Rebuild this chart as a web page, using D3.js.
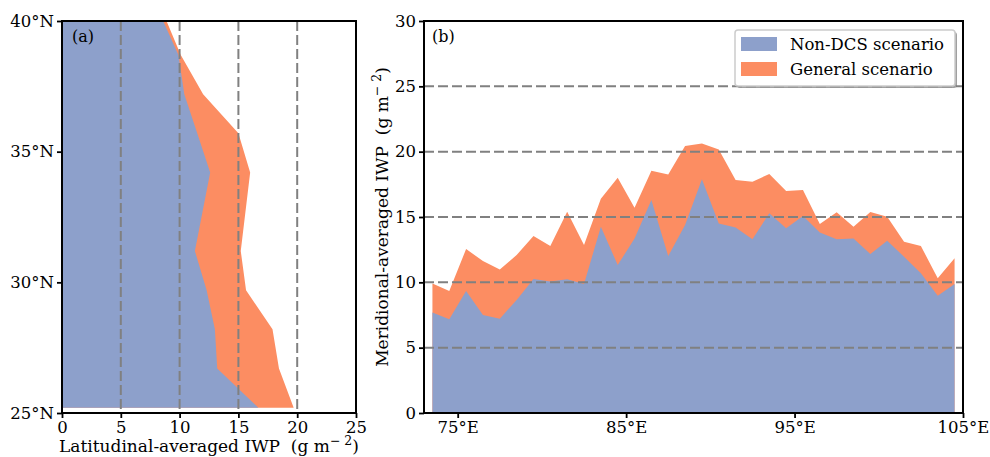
<!DOCTYPE html>
<html>
<head>
<meta charset="utf-8">
<script src="https://cdn.jsdelivr.net/npm/d3@7"></script>
<style>
  body { margin: 0; background: #fff; }
  svg { display: block; font-family: "DejaVu Serif", serif; }
</style>
</head>
<body>
<svg width="990" height="457"></svg>
<script>
// panel (a): averaged over longitude, by latitude
var lats = [25.2, 26.7, 28.2, 29.7, 31.2, 32.7, 34.2, 35.7, 37.2, 38.7, 40.2];
var latGeneral = [19.7, 18.45, 17.9, 15.65, 15.2, 15.6, 16.0, 15.0, 12.0, 10.1, 8.7];
var latNonDCS = [16.7, 13.2, 13.0, 12.3, 11.3, 11.95, 12.6, 11.5, 10.4, 9.9, 8.4];

// panel (b): averaged over latitude, by longitude
var lons = [73.5, 74.5, 75.5, 76.5, 77.5, 78.5, 79.5, 80.5, 81.5, 82.5, 83.5, 84.5, 85.5, 86.5, 87.5, 88.5,
            89.5, 90.5, 91.5, 92.5, 93.5, 94.5, 95.5, 96.5, 97.5, 98.5, 99.5, 100.5, 101.5, 102.5, 103.5, 104.5];
var lonGeneral = [9.92, 9.33, 12.55, 11.63, 10.99, 12.09, 13.54, 12.78, 15.4, 12.85, 16.4, 18.0, 15.71, 18.54, 18.26, 20.43,
                  20.63, 20.17, 17.83, 17.7, 18.29, 16.99, 17.06, 14.46, 15.36, 14.26, 15.38, 15.02, 13.11, 12.78, 10.31, 11.84];
var lonNonDCS = [7.7, 7.17, 9.33, 7.5, 7.22, 8.65, 10.25, 10.07, 10.23, 9.87, 14.26, 11.32, 13.36, 16.3, 12.01, 14.38,
                 17.88, 14.51, 14.2, 13.29, 15.28, 14.13, 15.07, 13.82, 13.29, 13.36, 12.17, 13.19, 11.96, 10.69, 8.98, 9.87];

var latTicks = [25, 30, 35, 40];
var iwpTicksA = [0, 5, 10, 15, 20, 25];
var lonTicks = [75, 85, 95, 105];
var iwpTicksB = [0, 5, 10, 15, 20, 25, 30];

var blue = "#8da0cb", orange = "#fc8d62", gridCol = "#808080";

var svg = d3.select("svg");
var top_ = 21, bottom = 413;

// label with a superscript, like matplotlib's $^{-2}$
function sup(sel, pre) {
  sel.attr("xml:space", "preserve");
  sel.append("tspan").text(pre);
  sel.append("tspan").attr("baseline-shift", "super").attr("font-size", "12.5px").text("\u2212 2");
  sel.append("tspan").text(")");
}

function spines(g, x0, x1) {
  g.append("rect")
    .attr("x", x0).attr("y", top_)
    .attr("width", x1 - x0).attr("height", bottom - top_)
    .attr("fill", "none").attr("stroke", "#000").attr("stroke-width", 2);
}

// ---------- panel (a)
var xa = d3.scaleLinear().domain([0, 25]).range([62, 356]);
var ya = d3.scaleLinear().domain([25, 40]).range([bottom, top_]);

var ga = svg.append("g");
ga.append("clipPath").attr("id", "clipA").append("rect")
  .attr("x", 62).attr("y", top_).attr("width", 294).attr("height", bottom - top_);

var areaA = function(vals) {
  return d3.area()
    .y(function(d, i) { return ya(lats[i]); })
    .x0(xa(0))
    .x1(function(d) { return xa(d); })(vals);
};
var pa = ga.append("g").attr("clip-path", "url(#clipA)");
pa.append("path").attr("d", areaA(latGeneral)).attr("fill", orange);
pa.append("path").attr("d", areaA(latNonDCS)).attr("fill", blue);

pa.selectAll(".grid").data([5, 10, 15, 20]).enter().append("line")
  .attr("x1", function(d) { return xa(d); }).attr("x2", function(d) { return xa(d); })
  .attr("y1", top_).attr("y2", bottom)
  .attr("stroke", gridCol).attr("stroke-width", 2).attr("stroke-dasharray", "10,4");

ga.append("g").attr("transform", "translate(0," + bottom + ")")
  .call(d3.axisBottom(xa).tickValues(iwpTicksA).tickSize(5).tickPadding(3).tickFormat(d3.format("d")))
  .call(function(g) { g.select(".domain").remove(); });
ga.append("g").attr("transform", "translate(62,0)")
  .call(d3.axisLeft(ya).tickValues(latTicks).tickSize(5).tickPadding(3)
    .tickFormat(function(d) { return d + "\u00b0N"; }))
  .call(function(g) { g.select(".domain").remove(); });
spines(ga, 62, 356);

ga.append("text").attr("x", 72).attr("y", 42).attr("font-size", "16px").text("(a)");
ga.append("text").attr("x", 209).attr("y", 452).attr("text-anchor", "middle")
  .attr("font-size", "17px").call(sup, "Latitudinal-averaged IWP  (g m");

// ---------- panel (b)
var xb = d3.scaleLinear().domain([73, 105]).range([424, 963]);
var yb = d3.scaleLinear().domain([0, 30]).range([bottom, top_]);

var gb = svg.append("g");
var areaB = d3.area()
  .x(function(d, i) { return xb(lons[i]); })
  .y0(yb(0))
  .y1(function(d) { return yb(d); });
gb.append("path").attr("d", areaB(lonGeneral)).attr("fill", orange);
gb.append("path").attr("d", areaB(lonNonDCS)).attr("fill", blue);

gb.selectAll(".grid").data([5, 10, 15, 20, 25]).enter().append("line")
  .attr("y1", function(d) { return yb(d); }).attr("y2", function(d) { return yb(d); })
  .attr("x1", 424).attr("x2", 963)
  .attr("stroke", gridCol).attr("stroke-width", 2).attr("stroke-dasharray", "10,4");

gb.append("g").attr("transform", "translate(0," + bottom + ")")
  .call(d3.axisBottom(xb).tickValues(lonTicks).tickSize(5).tickPadding(3)
    .tickFormat(function(d) { return d + "\u00b0E"; }))
  .call(function(g) { g.select(".domain").remove(); });
gb.append("g").attr("transform", "translate(424,0)")
  .call(d3.axisLeft(yb).tickValues(iwpTicksB).tickSize(5).tickPadding(3).tickFormat(d3.format("d")))
  .call(function(g) { g.select(".domain").remove(); });
spines(gb, 424, 963);

gb.append("text").attr("x", 432).attr("y", 42).attr("font-size", "16px").text("(b)");
gb.append("text").attr("transform", "translate(388,217) rotate(-90)").attr("text-anchor", "middle")
  .attr("font-size", "17px").call(sup, "Meridional-averaged IWP  (g m");

// legend
var lg = gb.append("g");
lg.append("rect").attr("x", 737).attr("y", 32).attr("width", 220).attr("height", 56)
  .attr("rx", 3).attr("fill", "#777").attr("opacity", 0.7);
lg.append("rect").attr("x", 735).attr("y", 30).attr("width", 220).attr("height", 56)
  .attr("rx", 3).attr("fill", "#fff").attr("stroke", "#ccc").attr("stroke-width", 1.5);
var items = [["Non-DCS scenario", blue], ["General scenario", orange]];
items.forEach(function(it, i) {
  lg.append("rect").attr("x", 741).attr("y", 37 + i * 25).attr("width", 36).attr("height", 14).attr("fill", it[1]);
  lg.append("text").attr("x", 790).attr("y", 50 + i * 25).attr("font-size", "16.5px").text(it[0]);
});

svg.selectAll(".tick text").attr("font-size", "16.5px").attr("font-family", "DejaVu Serif").attr("fill", "#000");
svg.selectAll(".tick line").attr("stroke", "#000").attr("stroke-width", 1.8);
</script>
</body>
</html>
